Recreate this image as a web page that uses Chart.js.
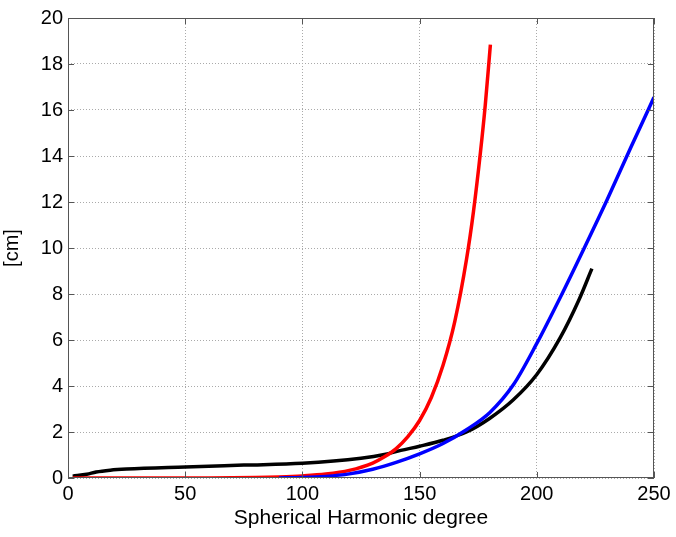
<!DOCTYPE html>
<html>
<head>
<meta charset="utf-8">
<script src="https://cdn.jsdelivr.net/npm/chart.js@4/dist/chart.umd.min.js"></script>
<style>
  html, body { margin: 0; padding: 0; background: #fff; }
  #wrap { width: 676px; height: 537px; }
</style>
</head>
<body>
<div id="wrap"><canvas id="chart"></canvas></div>
<script>
// values
const redDegree   = [2, 60, 80, 90, 100, 110, 120, 130, 135, 140, 145, 150, 155, 160, 165, 170, 173, 176, 178, 180.2];
const redValue    = [0, 0.005, 0.02, 0.045, 0.09, 0.17, 0.33, 0.65, 0.92, 1.28, 1.8, 2.5, 3.5, 4.9, 6.8, 9.5, 11.6, 14.2, 16.2, 18.84];

const blueDegree  = [90, 100, 110, 120, 130, 140, 150, 160, 170, 180, 190, 200, 210, 220, 230, 240, 250];
const blueValue   = [0, 0.02, 0.07, 0.18, 0.38, 0.68, 1.05, 1.5, 2.1, 2.85, 4.05, 5.85, 7.85, 9.95, 12.1, 14.35, 16.55];

const blackDegree = [2, 8, 12, 18, 25, 50, 75, 100, 125, 135, 142, 150, 160, 170, 180, 190, 200, 210, 218, 223.5];
const blackValue  = [0.08, 0.16, 0.26, 0.34, 0.39, 0.48, 0.56, 0.64, 0.86, 1.02, 1.2, 1.38, 1.64, 2.0, 2.6, 3.4, 4.5, 6.1, 7.75, 9.1];

const xTicks = [0, 50, 100, 150, 200, 250];
const yTicks = [0, 2, 4, 6, 8, 10, 12, 14, 16, 18, 20];

function toPoints(xs, ys) {
  return xs.map((x, i) => ({ x: x, y: ys[i] }));
}

// box around the plot with small inward ticks, like the matlab axes
const boxPlugin = {
  id: 'box',
  afterDraw(chart) {
    const ctx = chart.ctx;
    const a = chart.chartArea;
    const xs = chart.scales.x, ys = chart.scales.y;
    ctx.save();
    ctx.strokeStyle = '#555';
    ctx.lineWidth = 1;
    ctx.setLineDash([]);
    ctx.strokeRect(a.left + 0.5, a.top + 0.5, a.right - a.left - 1, a.bottom - a.top - 1);
    ctx.beginPath();
    xTicks.forEach(v => {
      const px = Math.round(xs.getPixelForValue(v)) + 0.5;
      ctx.moveTo(px, a.bottom); ctx.lineTo(px, a.bottom - 6);
      ctx.moveTo(px, a.top); ctx.lineTo(px, a.top + 6);
    });
    yTicks.forEach(v => {
      const py = Math.round(ys.getPixelForValue(v)) + 0.5;
      ctx.moveTo(a.left, py); ctx.lineTo(a.left + 6, py);
      ctx.moveTo(a.right, py); ctx.lineTo(a.right - 6, py);
    });
    ctx.stroke();
    ctx.restore();
  }
};

const lineStyle = {
  borderWidth: 3.5,
  pointRadius: 0,
  fill: false,
  cubicInterpolationMode: 'monotone'
};

new Chart(document.getElementById('chart'), {
  type: 'line',
  data: {
    datasets: [
      Object.assign({ label: 'blue', data: toPoints(blueDegree, blueValue), borderColor: '#0000ff' }, lineStyle),
      Object.assign({ label: 'red', data: toPoints(redDegree, redValue), borderColor: '#ff0000' }, lineStyle),
      Object.assign({ label: 'black', data: toPoints(blackDegree, blackValue), borderColor: '#000000' }, lineStyle)
    ]
  },
  options: {
    responsive: true,
    maintainAspectRatio: false,
    animation: false,
    layout: { padding: { top: 18, right: 22, left: 0, bottom: 0 } },
    plugins: {
      legend: { display: false },
      tooltip: { enabled: false }
    },
    scales: {
      x: {
        type: 'linear',
        min: 0,
        max: 250,
        afterBuildTicks: s => { s.ticks = xTicks.map(v => ({ value: v })); },
        afterFit: s => { s.height = 59; },
        ticks: {
          color: '#000',
          padding: 4,
          maxRotation: 0,
          font: { family: 'Liberation Sans, Arial, sans-serif', size: 20 }
        },
        grid: {
          color: '#aaa',
          lineWidth: 1,
          drawTicks: false
        },
        border: { display: false, dash: [1, 2] },
        title: {
          display: true,
          text: 'Spherical Harmonic degree',
          color: '#000',
          padding: { top: 0, bottom: 6 },
          font: { family: 'Liberation Sans, Arial, sans-serif', size: 21 }
        }
      },
      y: {
        type: 'linear',
        min: 0,
        max: 20,
        afterBuildTicks: s => { s.ticks = yTicks.map(v => ({ value: v })); },
        afterFit: s => { s.width = 68; },
        ticks: {
          color: '#000',
          padding: 5,
          font: { family: 'Liberation Sans, Arial, sans-serif', size: 20 }
        },
        grid: {
          color: '#aaa',
          lineWidth: 1,
          drawTicks: false
        },
        border: { display: false, dash: [1, 2] },
        title: {
          display: true,
          text: '[cm]',
          color: '#000',
          padding: { top: 0, bottom: 4 },
          font: { family: 'Liberation Sans, Arial, sans-serif', size: 20 }
        }
      }
    }
  },
  plugins: [boxPlugin]
});
</script>
</body>
</html>
